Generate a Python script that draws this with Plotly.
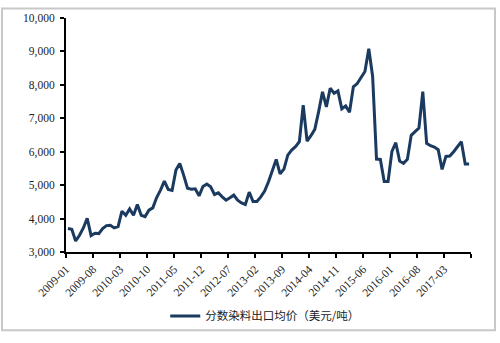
import plotly.graph_objects as go

# Monthly export price of disperse dyes (USD/ton), 2009-01 .. 2017-09
months = [f"{y}-{m:02d}" for y in range(2009, 2018) for m in range(1, 13)][:105]
prices = [
    3700, 3680, 3330, 3500, 3720, 4010, 3490, 3560, 3550, 3700, 3790, 3800,
    3720, 3760, 4220, 4100, 4290, 4100, 4420, 4100, 4060, 4250, 4320, 4630,
    4850, 5120, 4870, 4840, 5450, 5650, 5300, 4910, 4880, 4890, 4680, 4960,
    5030, 4950, 4720, 4770, 4650, 4550, 4620, 4700, 4550, 4470, 4420, 4790,
    4510, 4510, 4650, 4820, 5100, 5450, 5770, 5340, 5480, 5900, 6050, 6150,
    6300, 7390, 6320, 6480, 6670, 7200, 7790, 7340, 7900, 7750, 7820, 7280,
    7370, 7180, 7940, 8040, 8220, 8400, 9080, 8250, 5780, 5770, 5110, 5110,
    6010, 6270, 5720, 5650, 5770, 6490, 6600, 6710, 7800, 6250, 6180, 6140,
    6060, 5470, 5860, 5870, 6000, 6150, 6300, 5630, 5630,
]
series_name = "分数染料出口均价（美元/吨）"

# Labels every 7 months, ticks on category boundaries
tick_step = 7
tick_pos = [k - 0.5 for k in range(0, len(months) + 1, tick_step)]
tick_text = [months[k] if k < len(months) else "" for k in range(0, len(months) + 1, tick_step)]

navy = "#1b3a60"
serif = "Liberation Serif, Times New Roman, serif"

fig = go.Figure()
fig.add_trace(go.Scatter(
    x=list(range(len(months))), y=prices, mode="lines",
    name=series_name,
    line=dict(color=navy, width=3),
    customdata=months,
    hovertemplate="%{customdata}: %{y:,}<extra></extra>",
))

axis_common = dict(
    showgrid=False, zeroline=False,
    showline=True, linecolor="#000000", linewidth=2,
    ticks="outside", ticklen=4, tickwidth=2, tickcolor="#000000",
    tickfont=dict(family=serif, size=11.5, color="#222222"),
)

fig.update_layout(
    width=500, height=343,
    margin=dict(l=66, r=29, t=12, b=86),
    paper_bgcolor="#ffffff", plot_bgcolor="#ffffff",
    showlegend=True,
    legend=dict(
        orientation="h", x=0.245, xanchor="left", y=-0.273, yanchor="middle",
        font=dict(family="Noto Sans CJK SC, serif", size=11.5, color="#222222"),
        bgcolor="rgba(0,0,0,0)", itemwidth=30,
    ),
    xaxis=dict(
        **axis_common,
        range=[-0.5, len(months) - 0.5],
        tickmode="array", tickvals=tick_pos, ticktext=tick_text,
        tickangle=-45,
    ),
    yaxis=dict(
        **axis_common,
        range=[3000, 10000], dtick=1000, tickformat=",",
        ticklabelstandoff=3,
    ),
    shapes=[dict(
        type="rect", xref="paper", yref="paper",
        x0=(2 - 66) / 405, x1=(495 - 66) / 405,
        y0=(257 - 339) / 245, y1=(257 - 2) / 245,
        line=dict(color="#c8c8c8", width=2), fillcolor="rgba(0,0,0,0)",
        layer="below",
    )],
)

fig.write_html("out.html")
